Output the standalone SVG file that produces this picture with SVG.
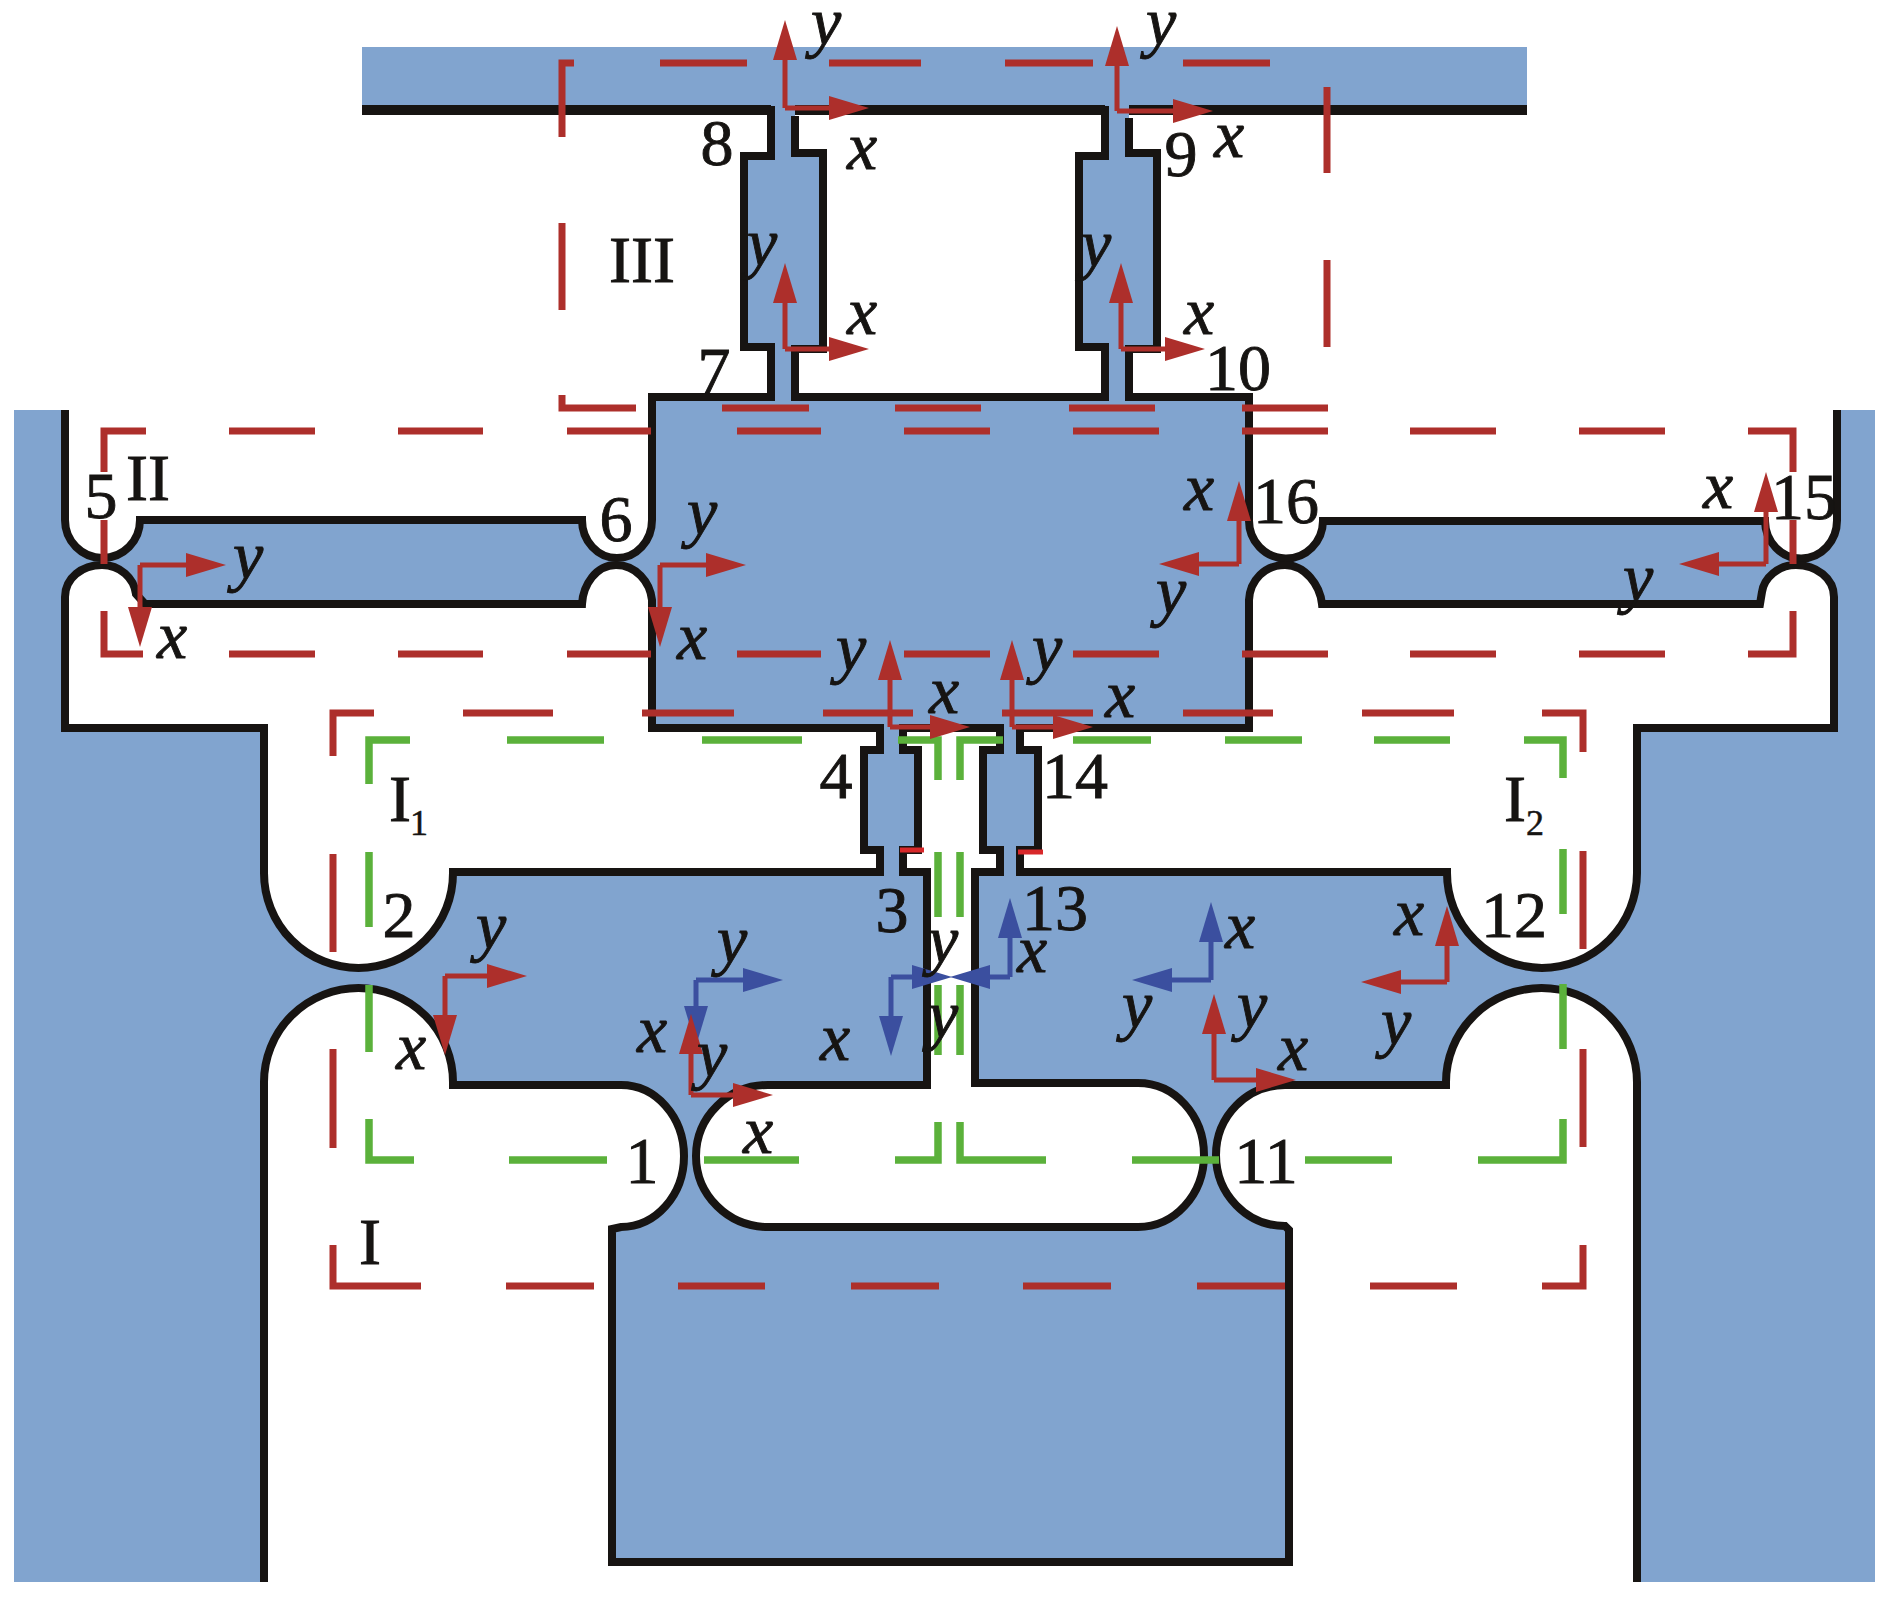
<svg xmlns="http://www.w3.org/2000/svg" width="1890" height="1604" viewBox="0 0 1890 1604">
<style>
text{font-family:"Liberation Serif","Times New Roman",serif;fill:#161412;stroke:#161412;stroke-width:.9;text-anchor:middle}
.n{font-size:66px}
.s{font-size:36px;stroke-width:.5}
.i{font-size:68px;font-style:italic}
.b{fill:#81a4cf;fill-rule:evenodd;stroke:none}
.k{fill:none;stroke:#171412;stroke-width:8;stroke-linejoin:miter}
.r{fill:none;stroke:#ad2f2b;stroke-width:7}
.g{fill:none;stroke:#5bb13b;stroke-width:7.5}
.ar{stroke:#ad2f2b;stroke-width:5;fill:none;marker-end:url(#mr)}
.ab{stroke:#3b4f9f;stroke-width:5;fill:none;marker-end:url(#mb)}
</style>
<defs>
<marker id="mr" markerUnits="userSpaceOnUse" markerWidth="42" markerHeight="26" viewBox="0 0 42 26" refX="30" refY="13" orient="auto"><path d="M0,1L40,13L0,25Z" fill="#ad2f2b"/></marker>
<marker id="mb" markerUnits="userSpaceOnUse" markerWidth="42" markerHeight="26" viewBox="0 0 42 26" refX="30" refY="13" orient="auto"><path d="M0,1L40,13L0,25Z" fill="#3b4f9f"/></marker>
</defs>
<g id="body">
<path class="b" d="M362,47H1527V110H1129V153H1157V349H1129V397H1249V520A37 38 0 0 0 1323,521H1765A36 38 0 0 0 1837,520V410H1875V1582H1637V1082A95.5 94 0 0 0 1446,1082V1085H1285A69 70 0 0 0 1216,1155A69 71 0 0 0 1285,1226L1289,1230V1562H612V1229L621,1227A63 71 0 0 0 684,1156A63 71 0 0 0 621,1085H453V1082A94.5 94 0 0 0 264,1082V1582H14V410H65V520A37.5 38 0 0 0 140,520H582A35 38 0 0 0 652,520V397H771V347H744V156H771V110H362Z
M795,110V153H823V349H795V397H1105V347H1079V156H1105V110Z
M65,728V597C65,578 82,565 102,565C120,565 134,578 136,594L145,604H582C583,585 596,565 616,565C636,565 650,582 652,600V728H880V750H864V850H880V872H453V873A94.5 95 0 0 1 264,873V728Z
M1020,728V750H1038V850H1020V872H1447V873A95 95 0 0 0 1637,873V728H1834V597C1834,578 1816,565 1796,565C1778,565 1764,578 1762,592L1760,604H1322C1320,585 1305,565 1285,565C1265,565 1250,580 1249,600V728Z
M903,728H1000V750H983V850H1000V872H975V1083H1138A66 72 0 0 1 1204,1155A66 72 0 0 1 1138,1227H768A72 71 0 0 1 696,1156A72 71 0 0 1 768,1085H927V872H903V850H918V750H903Z"/>
<path class="k" d="M362,110H771V156H744V347H771V397H652V520A35 38 0 0 1 582,520H140A37.5 38 0 0 1 65,520V410"/>
<path class="k" d="M795,116V153H823V349H795V397H1105V347H1079V156H1105V110H795"/>
<path class="k" d="M1129,118V153H1157V349H1129V397H1249V520A37 38 0 0 0 1323,521H1765A36 38 0 0 0 1837,520V410"/>
<path class="k" style="stroke-width:10" d="M362,110H771M795,110H1105M1129,110H1527"/>
<path class="k" d="M65,597C65,578 82,565 102,565C120,565 134,578 136,594L145,604H582C583,585 596,565 616,565C636,565 650,582 652,600V728H880V750H864V850H880V872H453V873A94.5 95 0 0 1 264,873V728H65Z"/>
<path class="k" d="M1020,728V750H1038V850H1020V872H1447V873A95 95 0 0 0 1637,873V728H1834V597C1834,578 1816,565 1796,565C1778,565 1764,578 1762,592L1760,604H1322C1320,585 1305,565 1285,565C1265,565 1250,580 1249,600V728Z"/>
<path class="k" d="M903,728H1000V750H983V850H1000V872H975V1083H1138A66 72 0 0 1 1204,1155A66 72 0 0 1 1138,1227H768A72 71 0 0 1 696,1156A72 71 0 0 1 768,1085H927V872H903V850H918V750H903Z"/>
<path class="k" d="M264,1582V1082A94.5 94 0 0 1 453,1082V1085H621A63 71 0 0 1 684,1156A63 71 0 0 1 621,1227L612,1229V1562H1289V1230L1285,1226A69 71 0 0 1 1216,1155A69 70 0 0 1 1285,1085H1446V1082A95.5 94 0 0 1 1637,1082V1582"/>
</g>
<g id="regions-green">
<path class="g" d="M369,784V740H410M507,740H604M702,740H802M898,740H938V780M369,852V927M369,985V1052M369,1119V1160H414M509,1160H607M704,1160H799M895,1160H938V1122M938,852V917M938,985V1055"/>
<path class="g" d="M960,780V740H1003M1073,740H1151M1225,740H1302M1374,740H1450M1524,740H1563V778M960,852V917M960,985V1055M960,1122V1160H1046M1132,1160H1219M1305,1160H1392M1478,1160H1563V1119M1563,849V914M1563,984V1049"/>
</g>
<g id="regions-red">
<path class="r" d="M574,63H562V137M562,223V310M562,395V408H636M722,408H809M895,408H981M1069,408H1155M1242,408H1328M660,63H747M829,63H921M1005,63H1093M1183,63H1270M1327,87V173M1327,260V347"/>
<path class="r" d="M146,431H104V472M104,520V564M104,611V654H143M229,654H315M398,654H483M567,654H651M737,654H821M904,654H990M1073,654H1159M1242,654H1328M1410,654H1496M1579,654H1665M1748,654H1793V611M1793,564V520M1793,472V431H1748M229,431H315M398,431H483M567,431H651M737,431H821M904,431H990M1073,431H1159M1242,431H1328M1410,431H1496M1579,431H1665"/>
<path class="r" d="M374,713H333V756M333,854V952M333,1049V1148M333,1245V1286H421M506,1286H594M678,1286H765M851,1286H939M1023,1286H1111M1197,1286H1285M1370,1286H1457M1542,1286H1583V1245M1583,1147V1049M1583,949V851M1583,752V713H1542M463,713H553M642,713H734M823,713H913M1002,713H1093M1183,713H1273M1362,713H1454"/>
<path d="M900,850H924M1018,852H1043" fill="none" stroke="#d8282a" stroke-width="5"/>
</g>
<g id="connectors">
<g id="axes-blue">
<path class="ab" d="M696,980V1036"/><path class="ab" d="M696,980H773"/>
<path class="ab" d="M891,977V1046"/><path class="ab" d="M891,977H942"/>
<path class="ab" d="M1010,977V908"/><path class="ab" d="M1010,977H960"/>
<path class="ab" d="M1211,980V912"/><path class="ab" d="M1211,980H1142"/>
</g>
<g id="axes-red">
<path class="ar" d="M785,108V30"/><path class="ar" d="M785,108H859"/>
<path class="ar" d="M785,349V273"/><path class="ar" d="M785,349H859"/>
<path class="ar" d="M1117,111V36"/><path class="ar" d="M1117,111H1203"/>
<path class="ar" d="M1121,349V273"/><path class="ar" d="M1121,349H1195"/>
<path class="ar" d="M140,565V637"/><path class="ar" d="M140,565H216"/>
<path class="ar" d="M660,565V637"/><path class="ar" d="M660,565H736"/>
<path class="ar" d="M1239,564V491"/><path class="ar" d="M1239,564H1169"/>
<path class="ar" d="M1766,564V482"/><path class="ar" d="M1766,564H1689"/>
<path class="ar" d="M890,727V650"/><path class="ar" d="M890,727H960"/>
<path class="ar" d="M1012,727V650"/><path class="ar" d="M1012,727H1083"/>
<path class="ar" d="M445,976V1045"/><path class="ar" d="M445,976H517"/>
<path class="ar" d="M691,1095V1024"/><path class="ar" d="M691,1095H763"/>
<path class="ar" d="M1214,1080V1004"/><path class="ar" d="M1214,1080H1286"/>
<path class="ar" d="M1447,982V916"/><path class="ar" d="M1447,982H1371"/>
</g>
</g>
<g id="labels">
<text class="n" x="717" y="165">8</text>
<text class="n" x="714" y="393">7</text>
<text class="n" x="1181" y="176">9</text>
<text class="n" x="1238" y="390">10</text>
<text class="n" x="101" y="518">5</text>
<text class="n" x="616" y="541">6</text>
<text class="n" x="1286" y="523">16</text>
<text class="n" x="1804" y="519">15</text>
<text class="n" x="836" y="798">4</text>
<text class="n" x="1075" y="798">14</text>
<text class="n" x="892" y="932">3</text>
<text class="n" x="1055" y="930">13</text>
<text class="n" x="399" y="937">2</text>
<text class="n" x="1514" y="937">12</text>
<text class="n" x="642" y="1183">1</text>
<text class="n" x="1266" y="1183">11</text>
<text class="n" x="642" y="282">III</text>
<text class="n" x="148" y="500">II</text>
<text class="n" x="370" y="1264">I</text>
<text class="n" x="400" y="821">I</text><text class="s" x="419" y="835">1</text>
<text class="n" x="1515" y="821">I</text><text class="s" x="1535" y="835">2</text>
<text class="i" x="826" y="45">y</text>
<text class="i" x="862" y="169">x</text>
<text class="i" x="762" y="266">y</text>
<text class="i" x="862" y="334">x</text>
<text class="i" x="702" y="535">y</text>
<text class="i" x="692" y="659">x</text>
<text class="i" x="248" y="579">y</text>
<text class="i" x="172" y="658">x</text>
<text class="i" x="851" y="671">y</text>
<text class="i" x="1161" y="45">y</text>
<text class="i" x="1229" y="157">x</text>
<text class="i" x="1096" y="267">y</text>
<text class="i" x="1199" y="334">x</text>
<text class="i" x="1199" y="510">x</text>
<text class="i" x="1171" y="614">y</text>
<text class="i" x="1718" y="508">x</text>
<text class="i" x="1638" y="601">y</text>
<text class="i" x="1047" y="671">y</text>
<text class="i" x="1120" y="717">x</text>
<text class="i" x="944" y="713">x</text>
<text class="i" x="491" y="949">y</text>
<text class="i" x="411" y="1069">x</text>
<text class="i" x="732" y="963">y</text>
<text class="i" x="652" y="1052">x</text>
<text class="i" x="712" y="1077">y</text>
<text class="i" x="758" y="1153">x</text>
<text class="i" x="835" y="1060">x</text>
<text class="i" x="943" y="963">y</text>
<text class="i" x="943" y="1038">y</text>
<text class="i" x="1032" y="972">x</text>
<text class="i" x="1240" y="948">x</text>
<text class="i" x="1137" y="1028">y</text>
<text class="i" x="1252" y="1028">y</text>
<text class="i" x="1293" y="1070">x</text>
<text class="i" x="1409" y="935">x</text>
<text class="i" x="1396" y="1045">y</text>
</g>
</svg>
